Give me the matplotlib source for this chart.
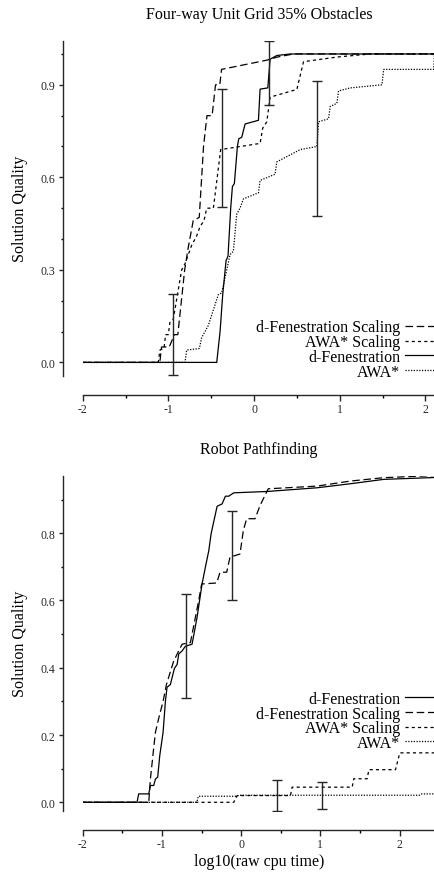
import matplotlib
matplotlib.use("Agg")
import matplotlib.pyplot as plt
from matplotlib.ticker import MultipleLocator, FormatStrFormatter

plt.rcParams['font.family'] = ['Liberation Serif', 'DejaVu Serif']
plt.rcParams['axes.unicode_minus'] = False

# ---- top panel: Four-way Unit Grid 35% Obstacles ----
grid_dfen_x = [-2, -0.436, -0.397, -0.366, -0.327, -0.304, -0.273, -0.253, -0.23, -0.195,
               -0.179, -0.144, -0.105, 0.051, 0.07, 0.16, 0.187, 0.265, 0.421, 2.2]
grid_dfen_y = [0, 0, 0.10, 0.22, 0.33, 0.345, 0.50, 0.57, 0.58, 0.70,
               0.725, 0.73, 0.773, 0.785, 0.886, 0.89, 0.983, 0.995, 1.0, 1.0]

grid_dfen_s_x = [-2, -1.10, -1.08, -0.99, -0.93, -0.89, -0.81, -0.77, -0.71, -0.64,
                 -0.59, -0.55, -0.49, -0.45, -0.40, -0.38, 0.15, 0.27, 0.46, 2.2]
grid_dfen_s_y = [0, 0, 0.05, 0.05, 0.09, 0.09, 0.30, 0.37, 0.46, 0.47,
                 0.70, 0.80, 0.80, 0.90, 0.90, 0.95, 0.98, 0.99, 1.0, 1.0]

grid_awa_s_x = [-2, -1.118, -1.099, -1.052, -1.032, -1.001, -0.982, -0.943, -0.845, -0.806,
                -0.728, -0.670, -0.631, -0.584, -0.553, -0.475, -0.390, 0.070, 0.101, 0.148,
                0.187, 0.499, 0.577, 0.966, 1.356, 2.2]
grid_awa_s_y = [0, 0, 0.04, 0.045, 0.09, 0.09, 0.13, 0.14, 0.30, 0.32,
                0.38, 0.41, 0.44, 0.46, 0.50, 0.50, 0.69, 0.71, 0.76, 0.78,
                0.86, 0.885, 0.975, 0.99, 1.0, 1.0]

grid_awa_x = [-2, -0.806, -0.787, -0.639, -0.612, -0.534, -0.417, -0.378, -0.280, -0.242,
              -0.203, -0.164, -0.125, 0.051, 0.070, 0.245, 0.265, 0.538, 0.733, 0.752,
              0.869, 0.888, 0.966, 0.985, 1.122, 1.492, 1.512, 2.095, 2.105, 2.2]
grid_awa_y = [0, 0, 0.04, 0.045, 0.08, 0.12, 0.22, 0.225, 0.35, 0.36,
              0.48, 0.50, 0.53, 0.55, 0.59, 0.61, 0.65, 0.69, 0.70, 0.78,
              0.79, 0.83, 0.84, 0.88, 0.89, 0.90, 0.95, 0.95, 1.0, 1.0]

grid_err_x = [-0.943, -0.378, 0.175, 0.730]
grid_err_y = [0.090, 0.6955, 0.939, 0.6935]
grid_err = [0.132, 0.1925, 0.104, 0.2175]

# ---- bottom panel: Robot Pathfinding ----
robot_dfen_x = [-2, -1.314, -1.293, -1.166, -1.145, -1.103, -1.082, -1.053, -1.027, -0.985,
                -0.956, -0.935, -0.893, -0.842, -0.808, -0.787, -0.745, -0.703, -0.619, -0.556,
                -0.493, -0.451, -0.408, -0.379, -0.303, -0.24, -0.198, -0.156, -0.093, 0.328,
                0.96, 1.38, 1.80, 2.5]
robot_dfen_y = [0, 0, 0.025, 0.025, 0.05, 0.05, 0.069, 0.075, 0.139, 0.208,
                0.30, 0.342, 0.35, 0.398, 0.41, 0.441, 0.45, 0.464, 0.47, 0.55,
                0.649, 0.699, 0.748, 0.798, 0.88, 0.887, 0.91, 0.91, 0.92, 0.924,
                0.935, 0.947, 0.96, 0.966]

robot_dfen_s_x = [-2, -1.166, -1.145, -1.082, -1.04, -0.985, -0.943, -0.851, -0.745, -0.64,
                  -0.535, -0.498, -0.308, -0.266, -0.182, -0.14, -0.014, 0.028, 0.07, 0.176,
                  0.239, 0.28, 0.343, 0.96, 1.38, 1.80, 2.5]
robot_dfen_s_y = [0, 0, 0.07, 0.208, 0.25, 0.30, 0.35, 0.42, 0.47, 0.475,
                  0.60, 0.649, 0.652, 0.684, 0.684, 0.729, 0.738, 0.808, 0.843, 0.843,
                  0.882, 0.902, 0.932, 0.94, 0.955, 0.965, 0.972]

robot_awa_s_x = [-2, -0.093, -0.05, 0.623, 0.644, 1.402, 1.423, 1.592, 1.613, 1.949, 2.004, 2.5]
robot_awa_s_y = [0, 0, 0.02, 0.02, 0.045, 0.045, 0.07, 0.07, 0.097, 0.097, 0.147, 0.147]

robot_awa_x = [-2, -0.56, -0.54, -0.05, -0.03, 2.25, 2.28, 2.5]
robot_awa_y = [0, 0, 0.018, 0.018, 0.021, 0.021, 0.025, 0.025]

robot_err_x = [-0.696, -0.119, 0.449, 1.025]
robot_err_y = [0.4645, 0.7335, 0.021, 0.019]
robot_err = [0.1555, 0.1315, 0.046, 0.040]

# line styles
LW = 0.9
STY_DFEN = '-'
STY_DFEN_S = (0, (6, 3))
STY_AWA_S = (0, (2.5, 2.5))
STY_AWA = (0, (1, 1.2))

fig = plt.figure(figsize=(4.35, 8.78), dpi=100)


def frame(ax, xmax, ymin, ymax, ymajor, title):
    ax.set_xlim(-2, xmax)
    ax.set_ylim(ymin, ymax)
    for s in ['top', 'right']:
        ax.spines[s].set_visible(False)
    for s in ['left', 'bottom']:
        ax.spines[s].set_position(('outward', 14))
        ax.spines[s].set_color('0.15')
        ax.spines[s].set_linewidth(1.0)
    ax.spines['left'].set_bounds(ymin, ymax)
    ax.spines['bottom'].set_bounds(-2, xmax)
    ax.xaxis.set_major_locator(MultipleLocator(1))
    ax.xaxis.set_minor_locator(MultipleLocator(0.5))
    ax.xaxis.set_major_formatter(FormatStrFormatter('%d'))
    ax.yaxis.set_major_locator(MultipleLocator(ymajor))
    ax.yaxis.set_minor_locator(MultipleLocator(0.1))
    ax.yaxis.set_major_formatter(FormatStrFormatter('%.1f'))
    ax.tick_params(axis='x', which='major', length=4, width=1.0, pad=2, labelsize=8.5, colors='0.15')
    ax.tick_params(axis='x', which='minor', length=2.2, width=1.0)
    ax.tick_params(axis='y', which='major', length=3, width=1.0, pad=3, labelsize=8.5, colors='0.15')
    ax.tick_params(axis='y', which='minor', length=1.8, width=1.0)
    ax.set_ylabel('Solution Quality', fontsize=11.5, labelpad=9)
    ax.set_title(title, fontsize=11.5, pad=16)


# top panel
ax1 = fig.add_axes([0.1901, 0.5710, 0.8099, 0.3815])
frame(ax1, 2.111, -0.043, 1.043, 0.3, 'Four-way Unit Grid 35% Obstacles')
l1, = ax1.plot(grid_dfen_s_x, grid_dfen_s_y, color='k', lw=LW, linestyle=STY_DFEN_S)
l2, = ax1.plot(grid_awa_s_x, grid_awa_s_y, color='k', lw=LW, linestyle=STY_AWA_S)
l3, = ax1.plot(grid_dfen_x, grid_dfen_y, color='k', lw=LW, linestyle=STY_DFEN)
l4, = ax1.plot(grid_awa_x, grid_awa_y, color='k', lw=LW, linestyle=STY_AWA)
ax1.errorbar(grid_err_x, grid_err_y, yerr=grid_err, fmt='none', ecolor='0.15',
             elinewidth=1.0, capsize=3.5, capthick=1.0)
ax1.legend([l1, l2, l3, l4], ['d-Fenestration Scaling', 'AWA* Scaling', 'd-Fenestration', 'AWA*'],
           loc='upper right', bbox_to_anchor=(1.005, 0.6350), bbox_transform=fig.transFigure,
           frameon=False, markerfirst=False, fontsize=11.5, handlelength=2.0,
           handletextpad=0.3, labelspacing=-0.08, borderpad=0, borderaxespad=0)

# bottom panel
ax2 = fig.add_axes([0.1901, 0.0755, 0.8099, 0.3816])
frame(ax2, 2.448, -0.025, 0.971, 0.2, 'Robot Pathfinding')
m1, = ax2.plot(robot_dfen_x, robot_dfen_y, color='k', lw=LW, linestyle=STY_DFEN)
m2, = ax2.plot(robot_dfen_s_x, robot_dfen_s_y, color='k', lw=LW, linestyle=STY_DFEN_S)
m3, = ax2.plot(robot_awa_s_x, robot_awa_s_y, color='k', lw=LW, linestyle=STY_AWA_S)
m4, = ax2.plot(robot_awa_x, robot_awa_y, color='k', lw=LW, linestyle=STY_AWA)
ax2.errorbar(robot_err_x, robot_err_y, yerr=robot_err, fmt='none', ecolor='0.15',
             elinewidth=1.0, capsize=3.5, capthick=1.0)
ax2.legend([m1, m2, m3, m4], ['d-Fenestration', 'd-Fenestration Scaling', 'AWA* Scaling', 'AWA*'],
           loc='upper right', bbox_to_anchor=(1.005, 0.2120), bbox_transform=fig.transFigure,
           frameon=False, markerfirst=False, fontsize=11.5, handlelength=2.0,
           handletextpad=0.3, labelspacing=-0.08, borderpad=0, borderaxespad=0)
ax2.set_xlabel('log10(raw cpu time)', fontsize=11.5, labelpad=2)

fig.savefig('out.png', dpi=100)
